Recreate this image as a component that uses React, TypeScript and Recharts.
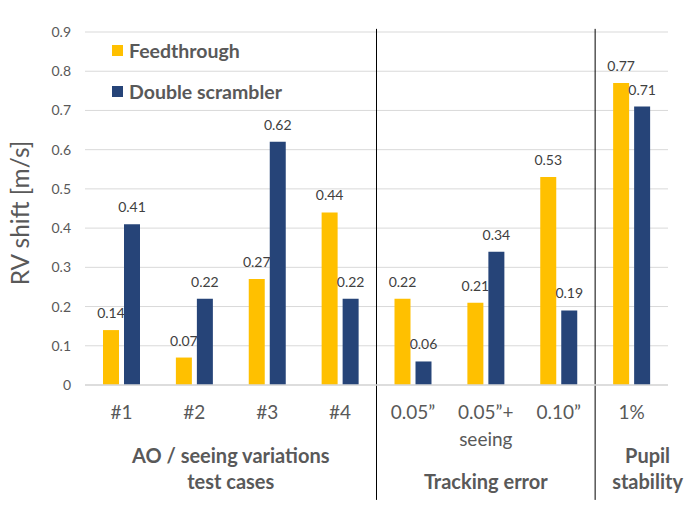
import React from 'react';
import {
  BarChart,
  Bar,
  XAxis,
  YAxis,
  CartesianGrid,
  LabelList,
  Legend,
  ReferenceLine,
} from 'recharts';

const categories = ['#1', '#2', '#3', '#4', '0.05\u201D', '0.05\u201D+\nseeing', '0.10\u201D', '1%'];
const feedthrough = [0.14, 0.07, 0.27, 0.44, 0.22, 0.21, 0.53, 0.77];
const doubleScrambler = [0.41, 0.22, 0.62, 0.22, 0.06, 0.34, 0.19, 0.71];
const yTicks = [0, 0.1, 0.2, 0.3, 0.4, 0.5, 0.6, 0.7, 0.8, 0.9];
const groupNames = ['AO / seeing variations\ntest cases', 'Tracking error', 'Pupil\nstability'];
const groupSizes = [4, 3, 1];
const seriesNames = ['Feedthrough', 'Double scrambler'];

const YELLOW = '#FFC000';
const NAVY = '#264478';
const TEXT = '#595959';
const FONT = 'Lato, sans-serif';

const data = categories.map((c, i) => ({
  name: c,
  pos: i + 0.5,
  feed: feedthrough[i],
  dbl: doubleScrambler[i],
}));

// group centers and first category of each later group, derived from group sizes
const groupCenters: number[] = [];
const groupStartCats: string[] = [];
{
  let start = 0;
  groupSizes.forEach((n, i) => {
    groupCenters.push(start + n / 2);
    if (i > 0) groupStartCats.push(categories[start]);
    start += n;
  });
}

const CategoryTick = (props: any) => {
  const { x, y, payload } = props;
  const lines = String(payload.value).split('\n');
  return (
    <text x={x} y={y} textAnchor="middle" fill={TEXT} fontSize={19} fontFamily={FONT}>
      {lines.map((l, i) => (
        <tspan key={i} x={x} dy={i === 0 ? 34 : 27}>
          {l}
        </tspan>
      ))}
    </text>
  );
};

const GroupTick = (props: any) => {
  const { x, y, index } = props;
  const name = groupNames[index] ?? '';
  const lines = name.split('\n');
  const dx = index === groupNames.length - 1 ? 16 : 0;
  const lastBaseline = y + 42;
  return (
    <text
      x={x + dx}
      y={lastBaseline - (lines.length - 1) * 26}
      textAnchor="middle"
      fill={TEXT}
      fontSize={20}
      fontWeight={700}
      fontFamily={FONT}
    >
      {lines.map((l, i) => (
        <tspan key={i} x={x + dx} dy={i === 0 ? 0 : 26}>
          {l}
        </tspan>
      ))}
    </text>
  );
};

const YLabel = (props: any) => {
  const vb = props.viewBox || { x: 0, y: 32, width: 85, height: 353 };
  const cx = 19;
  const cy = vb.y + vb.height / 2 + 4.5;
  return (
    <text
      x={cx}
      y={cy}
      transform={`rotate(-90, ${cx}, ${cy})`}
      textAnchor="middle"
      dominantBaseline="central"
      fill={TEXT}
      fontSize={24.5}
      fontFamily={FONT}
    >
      RV shift [m/s]
    </text>
  );
};

const renderLegend = () => {
  const colors = [YELLOW, NAVY];
  return (
    <div style={{ fontFamily: FONT }}>
      {seriesNames.map((n, i) => (
        <div key={n} style={{ display: 'flex', alignItems: 'center', height: 41 }}>
          <div style={{ width: 11, height: 11, background: colors[i], marginRight: 6 }} />
          <span style={{ fontSize: 19.5, fontWeight: 700, color: TEXT, lineHeight: '41px' }}>{n}</span>
        </div>
      ))}
    </div>
  );
};

export default function App() {
  return (
    <div style={{ position: 'absolute', left: 0, top: 0, width: 686, height: 521, background: '#fff', fontFamily: FONT }}>
      <BarChart
        width={686}
        height={521}
        data={data}
        margin={{ top: 32, right: 18, bottom: 0, left: 0 }}
        barSize={16}
        barGap={5}
      >
        <CartesianGrid vertical={false} stroke="#d9d9d9" />
        <XAxis
          dataKey="name"
          xAxisId={0}
          height={62}
          interval={0}
          tickLine={false}
          tickSize={0}
          tickMargin={0}
          axisLine={{ stroke: '#d9d9d9', strokeWidth: 1.5 }}
          tick={<CategoryTick />}
        />
        <XAxis
          xAxisId="group"
          dataKey="pos"
          type="number"
          domain={[0, categories.length]}
          allowDataOverflow
          ticks={groupCenters}
          interval={0}
          height={74}
          tickLine={false}
          tickSize={0}
          tickMargin={0}
          axisLine={false}
          tick={<GroupTick />}
        />
        <YAxis
          width={85}
          domain={[0, 0.9]}
          ticks={yTicks}
          interval={0}
          tickLine={false}
          axisLine={false}
          tickSize={0}
          tickMargin={14}
          tick={{ fontSize: 14, fill: TEXT, fontFamily: FONT }}
          label={<YLabel />}
        />
        <Legend
          layout="vertical"
          align="center"
          verticalAlign="middle"
          content={renderLegend}
          wrapperStyle={{ left: 112, top: 29.5, width: 'auto' }}
        />
        {groupStartCats.map((c) => (
          <ReferenceLine
            key={c}
            xAxisId={0}
            position="start"
            segment={[
              { x: c, y: 0.908 },
              { x: c, y: -0.293 },
            ]}
            ifOverflow="visible"
            stroke="#000"
            strokeWidth={1}
          />
        ))}
        <Bar dataKey="feed" name={seriesNames[0]} fill={YELLOW} isAnimationActive={false}>
          <LabelList dataKey="feed" position="top" offset={12} style={{ fontSize: 14, fill: '#404040', fontFamily: FONT }} />
        </Bar>
        <Bar dataKey="dbl" name={seriesNames[1]} fill={NAVY} isAnimationActive={false}>
          <LabelList dataKey="dbl" position="top" offset={12} style={{ fontSize: 14, fill: '#404040', fontFamily: FONT }} />
        </Bar>
      </BarChart>
    </div>
  );
}
